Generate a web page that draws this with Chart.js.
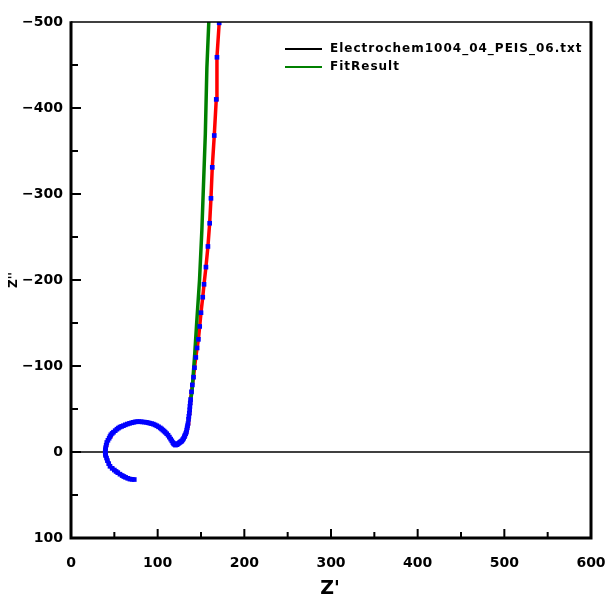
<!DOCTYPE html>
<html><head><meta charset="utf-8">
<script src="https://cdn.jsdelivr.net/npm/chart.js@4"></script>
<style>html,body{margin:0;padding:0;background:#fff;overflow:hidden}#wrap{width:609px;height:604px}canvas{display:block}</style>
</head><body><div id="wrap"><canvas id="c" width="609" height="604"></canvas></div>
<script>
// Measured impedance (Z' , Z'')
const measZre = [73,70.5,68,65.5,63,61,59,56.5,54,52,50,47.5,45,43.5,42,41,40,39.6,39.5,39.7,40,40.6,41.3,42.6,44,45,46,47.5,49,51,53,54.7,56.5,58.5,60.5,62.7,65,67.5,70,72,74,76,78,80,82,84.5,87,89,91,93,95,97,99,101,103,104.5,106,107.4,108.7,110.4,112,113.5,115,116.3,117.5,118.3,119,120.5,122,123,124,125,126,127,128,129,130,130.8,131.5,132.3,133,133.5,134,134.5,135,135.6,136,136.5,136.9,137.2,137.6,138,139,140,141.4,142.5,144,145.5,147,148.5,150,152,153.5,155.7,158,160,161.5,163,165.3,167.6,168.4,171];
const measZim = [32,31.8,31.5,30.6,29.5,28.5,27.4,25.8,24,22.6,21,19,16.6,13.5,10,7,4,2,0,-2.5,-5,-8,-11,-13.6,-16,-18,-20,-21.6,-23,-24.8,-26.5,-27.8,-29,-29.8,-30.6,-31.6,-32.5,-33.3,-34,-34.5,-35,-35.2,-35.3,-35.2,-35,-34.8,-34.5,-34,-33.5,-33,-32.4,-31.5,-30.5,-29.3,-28,-26.8,-25.5,-24.3,-23,-21.3,-19.5,-17.3,-15,-13,-11,-10,-9,-8,-8.5,-9.2,-10,-10.7,-11.5,-12.2,-13,-14.5,-16,-17.8,-19.5,-21.3,-23,-25.5,-28,-30.5,-33,-38,-41.5,-45,-49,-53,-57,-61,-70,-78,-87,-98,-110,-121,-131,-146,-162,-180,-195,-215,-239,-266,-295,-331,-368,-410,-459,-499];
// Fit result
const fitZre = [73,63,54,45,40,39.5,41.3,46,53,60.5,70,78,87,95,103,108.7,115,119,120.5,122,126,130,133,135,136.5,138,139.5,142.6,145,148.3,151,152.5,155,156.8,159];
const fitZim = [32,29.5,24,16.6,4,0,-11,-20,-26.5,-30.6,-34,-35.3,-34.5,-32.4,-28,-23,-15,-9,-8,-8.5,-11.5,-16,-23,-33,-45,-61,-69,-111.5,-150,-200,-258,-300,-370,-447,-500];
const xTickValues = [0,100,200,300,400,500,600];
const yTickValues = [-500,-400,-300,-200,-100,0,100];
const legendLabels = ['Electrochem1004_04_PEIS_06.txt','FitResult'];
const legendColors = ['#000000','#008000'];
const xTitle = "Z'";
const yTitle = "Z''";

const measPts = measZre.map((x,i)=>({x:x,y:measZim[i]}));
const fitPts = fitZre.map((x,i)=>({x:x,y:fitZim[i]}));

const decor = {
  id:'decor',
  beforeDatasetsDraw(chart){
    const ctx=chart.ctx, xs=chart.scales.x, ys=chart.scales.y;
    ctx.save();
    ctx.strokeStyle='#000'; ctx.lineWidth=1.5;
    const y0=ys.getPixelForValue(0);
    ctx.beginPath(); ctx.moveTo(xs.getPixelForValue(0),y0); ctx.lineTo(xs.getPixelForValue(600),y0); ctx.stroke();
    ctx.restore();
  },
  afterDatasetsDraw(chart){
    const ctx=chart.ctx, xs=chart.scales.x, ys=chart.scales.y, a=chart.chartArea;
    ctx.save();
    ctx.strokeStyle='#000';
    ctx.lineWidth=1.5;
    ctx.beginPath(); ctx.moveTo(a.left,a.top); ctx.lineTo(a.right,a.top); ctx.stroke();
    ctx.lineWidth=3;
    ctx.beginPath(); ctx.moveTo(a.left,a.top-0.75); ctx.lineTo(a.left,a.bottom); ctx.lineTo(a.right,a.bottom); ctx.lineTo(a.right,a.top-0.75); ctx.stroke();
    ctx.lineWidth=2;
    for(let v=0; v<=600; v+=50){
      if(v===0||v===600) continue;
      const px=xs.getPixelForValue(v); const len=(v%100===0)?9:6;
      ctx.beginPath(); ctx.moveTo(px,a.bottom); ctx.lineTo(px,a.bottom-len); ctx.stroke();
    }
    for(let v=-500; v<=100; v+=50){
      if(v===-500||v===100) continue;
      const py=ys.getPixelForValue(v); const len=(v%100===0)?10:7;
      ctx.beginPath(); ctx.moveTo(a.left,py); ctx.lineTo(a.left+len,py); ctx.stroke();
    }
    ctx.font='bold 12px "DejaVu Sans"';
    ctx.letterSpacing='1px';
    ctx.textBaseline='middle'; ctx.textAlign='left';
    legendLabels.forEach((t,i)=>{
      const y=49+i*18;
      ctx.strokeStyle=legendColors[i]; ctx.lineWidth=2;
      ctx.beginPath(); ctx.moveTo(285,y); ctx.lineTo(322,y); ctx.stroke();
      ctx.fillStyle='#000'; ctx.fillText(t,330,y);
    });
    ctx.letterSpacing='0px';
    ctx.fillStyle='#000';
    ctx.font='bold 19px "DejaVu Sans"'; ctx.textAlign='center'; ctx.textBaseline='middle';
    ctx.fillText(xTitle,330,589);
    ctx.save(); ctx.translate(14,280); ctx.rotate(-Math.PI/2);
    ctx.font='bold 12px "DejaVu Sans"'; ctx.fillText(yTitle,0,0); ctx.restore();
    ctx.restore();
  }
};

new Chart(document.getElementById('c'),{
  type:'line',
  data:{datasets:[
    {label:'markers',data:measPts,showLine:false,pointStyle:'rect',pointRadius:3.3,pointBackgroundColor:'#0000ff',pointBorderColor:'#0000ff',pointBorderWidth:0,order:0},
    {label:legendLabels[1],data:fitPts,borderColor:'#008000',borderWidth:3.5,pointRadius:0,tension:0,order:1},
    {label:legendLabels[0],data:measPts,borderColor:'#ff0000',borderWidth:3.5,pointRadius:0,tension:0,order:2}
  ]},
  options:{
    responsive:false, animation:false, devicePixelRatio:1,
    layout:{padding:{top:22,right:18,bottom:0,left:0}},
    plugins:{legend:{display:false},tooltip:{enabled:false}},
    scales:{
      x:{type:'linear',min:0,max:600,
        afterBuildTicks(s){s.ticks=xTickValues.map(v=>({value:v}));},
        afterFit(s){s.height=66; s.paddingRight=0; s.paddingLeft=0;},
        grid:{display:false,drawTicks:false},border:{display:false},
        ticks:{color:'#000',font:{family:'DejaVu Sans',weight:'bold',size:14},padding:17,maxRotation:0}},
      y:{type:'linear',min:-500,max:100,reverse:true,
        afterBuildTicks(s){s.ticks=yTickValues.map(v=>({value:v}));},
        afterFit(s){s.width=71;},
        grid:{display:false,drawTicks:false},border:{display:false},
        ticks:{color:'#000',font:{family:'DejaVu Sans',weight:'bold',size:14},padding:8,
          callback:v=> v<0 ? '\u2212'+(-v) : String(v)}}
    }
  },
  plugins:[decor]
});
</script></body></html>
